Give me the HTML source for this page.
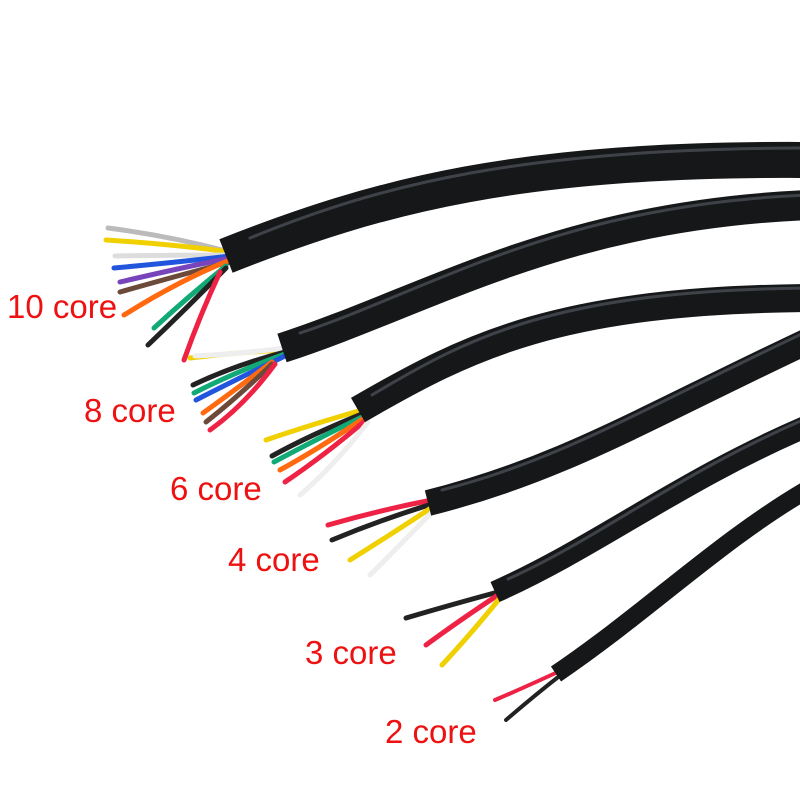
<!DOCTYPE html>
<html><head><style>
html,body{margin:0;padding:0;background:#fff;width:800px;height:800px;overflow:hidden}
text{font-family:"Liberation Sans",sans-serif;fill:#ee1111;font-size:33px}
</style></head><body>
<svg width="800" height="800" viewBox="0 0 800 800" xmlns="http://www.w3.org/2000/svg">
<g fill="none" stroke-linecap="round">
<g stroke-width="5">
<path d="M230,252 Q170,236 108,228" stroke="#bbb"/>
<path d="M230,252 Q170,244 106,240" stroke="#f0d000"/>
<path d="M230,255 Q170,255 115,256" stroke="#ddd"/>
<path d="M230,256 Q180,262 114,268" stroke="#2255dd"/>
<path d="M230,258 Q180,268 120,282" stroke="#7744bb"/>
<path d="M230,262 Q180,275 120,292" stroke="#6b4a3a"/>
<path d="M230,260 Q180,280 124,315" stroke="#ff6a10"/>
<path d="M226,266 Q190,295 154,328" stroke="#11aa77"/>
<path d="M226,268 Q190,305 148,345" stroke="#222"/>
<path d="M220,272 Q200,315 184,360" stroke="#ee2244"/>
</g>
<g stroke-width="5">
<path d="M285,350 Q240,352 190,358" stroke="#f0d000"/>
<path d="M285,348 Q240,354 195,356" stroke="#eee"/>
<path d="M285,352 Q235,365 193,385" stroke="#222"/>
<path d="M285,354 Q235,372 194,393" stroke="#11aa77"/>
<path d="M285,356 Q235,380 196,400" stroke="#2255dd"/>
<path d="M272,362 Q235,390 203,413" stroke="#ff6a10"/>
<path d="M272,364 Q240,395 206,422" stroke="#6b4a3a"/>
<path d="M275,364 Q245,405 210,430" stroke="#ee2244"/>
</g>
<g stroke-width="5">
<path d="M362,410 Q310,425 266,440" stroke="#f0d000"/>
<path d="M362,414 Q310,435 272,456" stroke="#222"/>
<path d="M364,416 Q315,440 274,462" stroke="#11aa77"/>
<path d="M364,418 Q320,448 280,470" stroke="#ff6a10"/>
<path d="M366,420 Q325,455 285,482" stroke="#ee2244"/>
<path d="M368,422 Q335,465 300,495" stroke="#eee"/>
</g>
<g stroke-width="5">
<path d="M432,500 Q380,510 328,525" stroke="#ee2244"/>
<path d="M432,504 Q380,520 332,540" stroke="#222"/>
<path d="M434,506 Q390,535 350,560" stroke="#f0d000"/>
<path d="M436,508 Q400,545 370,575" stroke="#eee"/>
</g>
<g stroke-width="5">
<path d="M498,592 Q450,605 406,618" stroke="#222"/>
<path d="M498,595 Q460,620 426,645" stroke="#ee2244"/>
<path d="M500,598 Q470,635 442,665" stroke="#f0d000"/>
</g>
<g stroke-width="4">
<path d="M562,670 Q530,685 495,700" stroke="#ee2244"/>
<path d="M562,674 Q535,695 506,720" stroke="#222"/>
</g>
<g stroke="#151719" stroke-linecap="butt">
<path d="M226,256 C380,195 520,158 810,160" stroke-width="36"/>
<path d="M282,348 C430,300 560,215 810,205" stroke-width="30"/>
<path d="M358,410 C470,345 560,300 810,298" stroke-width="28"/>
<path d="M428,503 C560,470 640,420 810,340" stroke-width="26"/>
<path d="M495,592 C600,545 680,480 810,425" stroke-width="22"/>
<path d="M556,674 C650,610 720,540 810,488" stroke-width="18"/>
</g>
<g stroke="#4a4e55" stroke-width="3" opacity="0.8">
<path d="M250,238 C380,185 520,148 810,148"/>
<path d="M300,333 C430,290 560,204 810,195"/>
<path d="M372,395 C470,336 560,290 810,288"/>
<path d="M442,490 C560,460 640,410 810,330"/>
<path d="M508,579 C600,538 680,472 810,417"/>
</g>
</g>
<text x="7" y="318">10 core</text>
<text x="84" y="422">8 core</text>
<text x="170" y="500">6 core</text>
<text x="228" y="571">4 core</text>
<text x="305" y="664">3 core</text>
<text x="385" y="743">2 core</text>
</svg>
</body></html>
